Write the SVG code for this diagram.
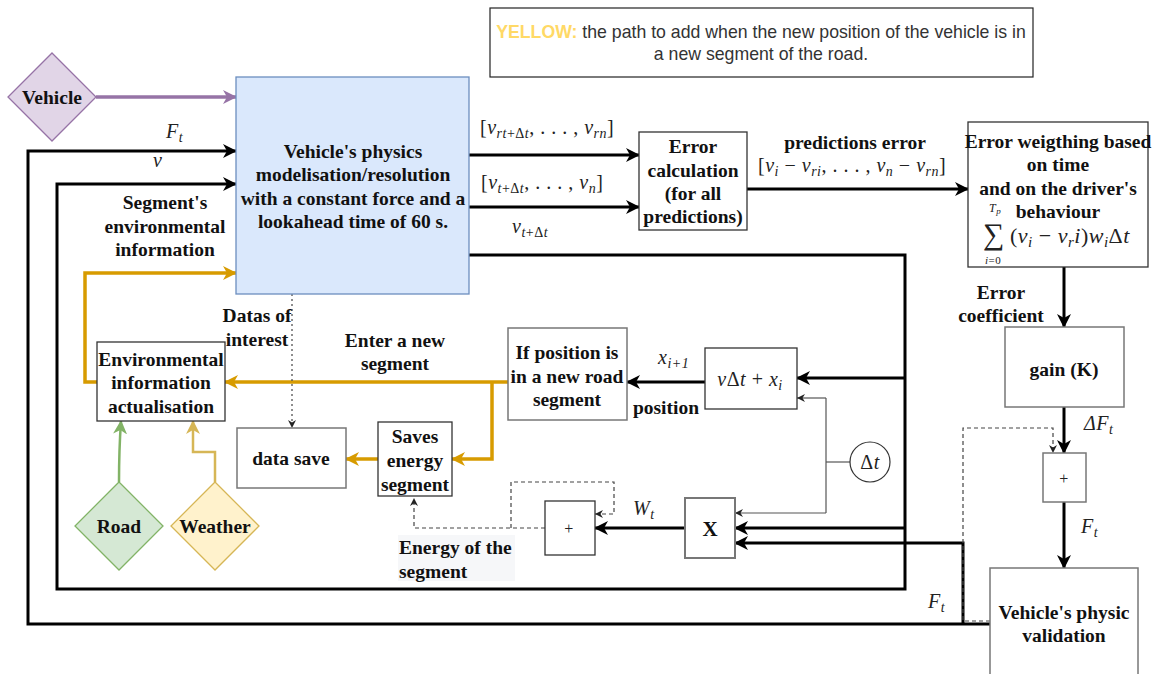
<svg xmlns="http://www.w3.org/2000/svg" width="1161" height="674" viewBox="0 0 1161 674">
<style>
.t{font-family:"Liberation Serif","Times New Roman",serif;font-weight:bold;font-size:19.5px;fill:#111;text-anchor:middle}
.m{font-family:"Liberation Serif","Times New Roman",serif;font-size:20px;fill:#222;letter-spacing:0.5px}
.i{font-style:italic}
.s{font-size:14px}
.box{fill:#fff;stroke:#333;stroke-width:1.3}
.gbox{fill:#fff;stroke:#777;stroke-width:1.5}
.k{fill:none;stroke:#000;stroke-width:3}
.o{fill:none;stroke:#d79b00;stroke-width:3.5}
.thin{fill:none;stroke:#555;stroke-width:1.2}
.dash{fill:none;stroke:#444;stroke-width:1.2;stroke-dasharray:4 3}
.leg{font-family:"Liberation Sans",Arial,sans-serif;font-size:17.7px;fill:#333;text-anchor:middle}
</style>
<defs>
<marker id="ak" markerUnits="userSpaceOnUse" markerWidth="16" markerHeight="16" refX="13" refY="7" orient="auto"><path d="M0,0 L14,7 L0,14 L4,7 z" fill="#000"/></marker>
<marker id="ao" markerUnits="userSpaceOnUse" markerWidth="16" markerHeight="16" refX="13" refY="7" orient="auto"><path d="M0,0 L14,7 L0,14 L4,7 z" fill="#d79b00"/></marker>
<marker id="ap" markerUnits="userSpaceOnUse" markerWidth="16" markerHeight="16" refX="13" refY="7" orient="auto"><path d="M0,0 L14,7 L0,14 L4,7 z" fill="#9673a6"/></marker>
<marker id="ag" markerUnits="userSpaceOnUse" markerWidth="16" markerHeight="16" refX="13" refY="7" orient="auto"><path d="M0,0 L14,7 L0,14 L4,7 z" fill="#82b366"/></marker>
<marker id="ay" markerUnits="userSpaceOnUse" markerWidth="16" markerHeight="16" refX="13" refY="7" orient="auto"><path d="M0,0 L14,7 L0,14 L4,7 z" fill="#d6b656"/></marker>
<marker id="as" markerUnits="userSpaceOnUse" markerWidth="10" markerHeight="10" refX="8" refY="4" orient="auto"><path d="M0,0 L8,4 L0,8 L2.5,4 z" fill="#222"/></marker>
</defs>

<g id="legend">
<rect x="490" y="8" width="543" height="69" fill="#fff" stroke="#222" stroke-width="1.2"/>
<text class="leg" x="761" y="38"><tspan fill="#ffd966" font-weight="bold">YELLOW:</tspan> the path to add when the new position of the vehicle is in</text>
<text class="leg" x="761" y="60">a new segment of the road.</text>
</g>

<g id="connectors">
<path d="M96,97 L236,97" fill="none" stroke="#9673a6" stroke-width="3.5" marker-end="url(#ap)"/>
<path class="k" d="M990,624 L28,624 L28,151 L236,151" marker-end="url(#ak)"/>
<path class="k" d="M963,624 L963,543 L735,543" marker-end="url(#ak)"/>
<path class="k" d="M469,255 L905,255 L905,589 L57,589 L57,184 L236,184" marker-end="url(#ak)"/>
<path class="k" d="M905,378 L797,378" marker-end="url(#ak)"/>
<path class="k" d="M905,528 L735,528" marker-end="url(#ak)"/>
<path class="k" d="M469,155 L639,155" marker-end="url(#ak)"/>
<path class="k" d="M469,207 L639,207" marker-end="url(#ak)"/>
<path class="k" d="M747,189 L968,189" marker-end="url(#ak)"/>
<path class="k" d="M1064,267 L1064,327" marker-end="url(#ak)"/>
<path class="k" d="M1064,407 L1064,453" marker-end="url(#ak)"/>
<path class="k" d="M1064,502 L1064,568" marker-end="url(#ak)"/>
<path class="dash" d="M990,621 L963,621 L963,428 L1053,428 L1053,453" marker-end="url(#as)"/>
<path class="k" d="M705,382 L627,382" marker-end="url(#ak)"/>
<path class="k" d="M685,528 L595,528" marker-end="url(#ak)"/>
<path class="o" d="M508,382 L225,382" marker-end="url(#ao)"/>
<path class="o" d="M492,382 L492,459 L452,459" marker-end="url(#ao)"/>
<path class="o" d="M378,459 L346,459" marker-end="url(#ao)"/>
<path class="o" d="M97,382 L85,382 L85,273 L236,273" marker-end="url(#ao)"/>
<path d="M292,294 L292,428" fill="none" stroke="#444" stroke-width="1.2" stroke-dasharray="2 3" marker-end="url(#as)"/>
<path d="M119,482 Q119,450 121,421" fill="none" stroke="#82b366" stroke-width="2.5" marker-end="url(#ag)"/>
<path d="M215,482 L215,452 L193,452 L193,421" fill="none" stroke="#d6b656" stroke-width="2.5" marker-end="url(#ay)"/>
<path class="thin" d="M850,462 L826,462"/>
<path class="thin" d="M826,398 L826,513"/>
<path class="thin" d="M826,398 L797,398" marker-end="url(#as)"/>
<path class="thin" d="M826,513 L735,513" marker-end="url(#as)"/>
<path class="dash" d="M545,528 L414,528 L414,498" marker-end="url(#as)"/>
<path class="dash" d="M511,528 L511,482 L614,482 L614,514 L595,514" marker-end="url(#as)"/>
</g>

<g id="vehicle">
<path d="M52,53 L96,97 L52,141 L8,97 z" fill="#e1d5e7" stroke="#9673a6" stroke-width="1.3"/>
<text class="t" x="52" y="104">Vehicle</text>
</g>

<g id="model">
<rect x="236" y="77" width="233" height="217" fill="#dae8fc" stroke="#6c8ebf" stroke-width="1.3"/>
<text class="t" x="353" y="158">Vehicle's physics</text>
<text class="t" x="353" y="181">modelisation/resolution</text>
<text class="t" x="353" y="205">with a constant force and a</text>
<text class="t" x="353" y="228">lookahead time of 60 s.</text>
</g>

<g id="errcalc">
<rect class="box" x="639" y="132" width="108" height="98"/>
<text class="t" x="693" y="153">Error</text>
<text class="t" x="693" y="177">calculation</text>
<text class="t" x="693" y="200">(for all</text>
<text class="t" x="693" y="223">predictions)</text>
</g>

<g id="errweight">
<rect class="box" x="968" y="122" width="180" height="145"/>
<text class="t" x="1058" y="148">Error weigthing based</text>
<text class="t" x="1058" y="171">on time</text>
<text class="t" x="1058" y="195">and on the driver's</text>
<text class="t" x="1058" y="218">behaviour</text>
<text class="m" x="983" y="244" style="font-size:30px">∑</text>
<text class="m i" x="989" y="212" style="font-size:12px">T<tspan style="font-size:9px" dy="2">p</tspan></text>
<text class="m" x="985" y="264" style="font-size:11px"><tspan class="i">i</tspan>=0</text>
<text class="m" x="1010" y="243" style="font-size:22px">(<tspan class="i">v</tspan><tspan class="i" style="font-size:15px" dy="4">i</tspan><tspan dy="-4"> − </tspan><tspan class="i">v</tspan><tspan class="i" style="font-size:15px" dy="4">r</tspan><tspan class="i" dy="-4">i</tspan>)<tspan class="i">w</tspan><tspan class="i" style="font-size:15px" dy="4">i</tspan><tspan dy="-4">Δ</tspan><tspan class="i">t</tspan></text>
</g>

<g id="gain">
<rect class="gbox" x="1005" y="327" width="119" height="80"/>
<text class="t" x="1064" y="376">gain (K)</text>
</g>

<g id="sum2">
<rect class="gbox" x="1043" y="453" width="43" height="49"/>
<text class="m" x="1064" y="484" style="font-size:16px;text-anchor:middle">+</text>
</g>

<g id="validation">
<rect class="gbox" x="990" y="568" width="148" height="120"/>
<text class="t" x="1064" y="619">Vehicle's physic</text>
<text class="t" x="1064" y="642">validation</text>
</g>

<g id="vdt">
<rect class="box" x="705" y="348" width="92" height="61"/>
<text class="m" x="750" y="386" style="text-anchor:middle"><tspan class="i">v</tspan>Δ<tspan class="i">t</tspan> + <tspan class="i">x</tspan><tspan class="i s" dy="4">i</tspan></text>
</g>

<g id="ifpos">
<rect class="gbox" x="508" y="328" width="119" height="92"/>
<text class="t" x="567" y="359">If position is</text>
<text class="t" x="567" y="383">in a new road</text>
<text class="t" x="567" y="406">segment</text>
</g>

<g id="dt">
<circle cx="870" cy="462" r="20" fill="#fff" stroke="#333" stroke-width="1.2"/>
<text class="m" x="870" y="469" style="text-anchor:middle">Δ<tspan class="i">t</tspan></text>
</g>

<g id="mult">
<rect x="685" y="498" width="50" height="60" fill="#fff" stroke="#777" stroke-width="2"/>
<text class="t" x="710" y="536" style="font-size:21px">X</text>
</g>

<g id="sum1">
<rect class="box" x="545" y="501" width="50" height="54"/>
<text class="m" x="569" y="534" style="font-size:16px;text-anchor:middle">+</text>
</g>

<g id="envact">
<rect class="box" x="97" y="342" width="128" height="79"/>
<text class="t" x="161" y="366">Environmental</text>
<text class="t" x="161" y="389">information</text>
<text class="t" x="161" y="413">actualisation</text>
</g>

<g id="datasave">
<rect class="gbox" x="237" y="428" width="109" height="60"/>
<text class="t" x="291" y="465">data save</text>
</g>

<g id="saves">
<rect class="box" x="378" y="422" width="74" height="74"/>
<text class="t" x="415" y="443">Saves</text>
<text class="t" x="415" y="467">energy</text>
<text class="t" x="415" y="491">segment</text>
</g>

<g id="road">
<path d="M119,482 L163,526 L119,570 L75,526 z" fill="#d5e8d4" stroke="#82b366" stroke-width="1.3"/>
<text class="t" x="119" y="533">Road</text>
</g>

<g id="weather">
<path d="M215,482 L259,526 L215,570 L171,526 z" fill="#fff2cc" stroke="#d6b656" stroke-width="1.3"/>
<text class="t" x="215" y="533">Weather</text>
</g>

<g id="labels">
<text class="m i" x="166" y="138">F<tspan class="s" dy="4">t</tspan></text>
<text class="m i" x="153" y="167">v</text>
<text class="t" x="165" y="209">Segment's</text>
<text class="t" x="165" y="233">environmental</text>
<text class="t" x="165" y="256">information</text>
<text class="t" x="257" y="322">Datas of</text>
<text class="t" x="257" y="346">interest</text>
<text class="t" x="395" y="347">Enter a new</text>
<text class="t" x="395" y="370">segment</text>
<text class="m" x="480" y="134">[<tspan class="i">v</tspan><tspan class="i s" dy="4">rt</tspan><tspan class="s">+Δ</tspan><tspan class="i s">t</tspan><tspan dy="-4">, . . . , </tspan><tspan class="i">v</tspan><tspan class="i s" dy="4">rn</tspan><tspan dy="-4">]</tspan></text>
<text class="m" x="481" y="189">[<tspan class="i">v</tspan><tspan class="i s" dy="4">t</tspan><tspan class="s">+Δ</tspan><tspan class="i s">t</tspan><tspan dy="-4">, . . . , </tspan><tspan class="i">v</tspan><tspan class="i s" dy="4">n</tspan><tspan dy="-4">]</tspan></text>
<text class="m" x="512" y="233"><tspan class="i">v</tspan><tspan class="i s" dy="4">t</tspan><tspan class="s">+Δ</tspan><tspan class="i s">t</tspan></text>
<text class="t" x="855" y="149">predictions error</text>
<text class="m" x="758" y="172">[<tspan class="i">v</tspan><tspan class="i s" dy="4">i</tspan><tspan dy="-4"> − </tspan><tspan class="i">v</tspan><tspan class="i s" dy="4">ri</tspan><tspan dy="-4">, . . . , </tspan><tspan class="i">v</tspan><tspan class="i s" dy="4">n</tspan><tspan dy="-4"> − </tspan><tspan class="i">v</tspan><tspan class="i s" dy="4">rn</tspan><tspan dy="-4">]</tspan></text>
<text class="t" x="1001" y="299">Error</text>
<text class="t" x="1001" y="322">coefficient</text>
<text class="m i" x="1084" y="430">ΔF<tspan class="s" dy="4">t</tspan></text>
<text class="m i" x="1081" y="533">F<tspan class="s" dy="4">t</tspan></text>
<text class="m i" x="928" y="608">F<tspan class="s" dy="4">t</tspan></text>
<text class="m i" x="658" y="364">x<tspan class="s" dy="4">i+1</tspan></text>
<text class="t" x="666" y="414">position</text>
<text class="m i" x="633" y="515">W<tspan class="s" dy="4">t</tspan></text>
<rect x="398" y="535" width="117" height="46" fill="#f6f7f9"/>
<text class="t" x="399" y="554" style="text-anchor:start">Energy of the</text>
<text class="t" x="399" y="578" style="text-anchor:start">segment</text>
</g>
</svg>
